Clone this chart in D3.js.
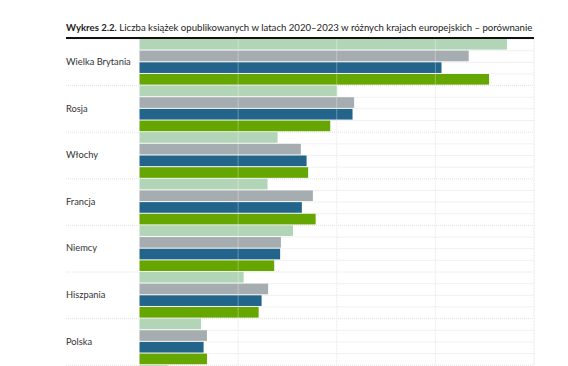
<!DOCTYPE html>
<html>
<head>
<meta charset="utf-8">
<script src="https://cdn.jsdelivr.net/npm/d3@7"></script>
<style>
  body { margin: 0; background: #fff; }
  svg { display: block; font-family: Lato, 'Noto Sans', sans-serif; }
</style>
</head>
<body>
<div id="chart"></div>
<script>
// data (liczba tytułów)
const countries = ['Wielka Brytania', 'Rosja', 'Włochy', 'Francja', 'Niemcy', 'Hiszpania', 'Polska', '']
const years = ['2020', '2021', '2022', '2023']
const v2020 = [186300, 100200, 70000, 64900, 77800, 52800, 31200, 14300]
const v2021 = [166900, 108800, 81800, 87900, 71700, 65200, 34200, 14000]
const v2022 = [153100, 108000, 84700, 82300, 71300, 61900, 32500, 14000]
const v2023 = [177200, 96700, 85500, 89300, 68300, 60400, 34200, 14000]
const xTicks = [0, 50000, 100000, 150000, 200000]
const colors = ['#b3d5b7', '#a6adb0', '#22648a', '#66a600']

const width = 568
const height = 366
const marginLeft = 66
const plotLeft = 139.5
const plotRight = 534
const plotTop = 38.5
const groupH = 46.6

const series = [v2020, v2021, v2022, v2023]

const svg = d3
  .select('#chart')
  .append('svg')
  .attr('width', width)
  .attr('height', height)

// title
const title = svg
  .append('text')
  .attr('x', marginLeft)
  .attr('y', 31)
  .attr('fill', '#222')
  .style('font-size', '10px')
title.append('tspan').attr('font-weight', 'bold').text('Wykres 2.2.')
title
  .append('tspan')
  .text(' Liczba książek opublikowanych w latach 2020–2023 w różnych krajach europejskich – porównanie')
const tw = title.node().getComputedTextLength()
title.style('font-size', (10 * (plotRight - 1 - marginLeft)) / tw + 'px')

const x = d3.scaleLinear().domain([0, 200000]).range([plotLeft, plotRight])

const y = d3
  .scaleBand()
  .domain(countries)
  .range([plotTop, plotTop + groupH * countries.length])

const yInner = d3
  .scaleBand()
  .domain(years)
  .range([0, y.bandwidth()])
  .paddingInner(0.09)
  .paddingOuter(0.04)

// gridlines behind bars
svg
  .append('g')
  .selectAll('line')
  .data(xTicks.slice(1))
  .join('line')
  .attr('x1', d => x(d))
  .attr('x2', d => x(d))
  .attr('y1', plotTop)
  .attr('y2', height)
  .attr('stroke', '#e6e6e6')
  .attr('stroke-dasharray', '2,1')

// separators between bars
const seps = []
countries.forEach(c => {
  years.forEach((yr, i) => {
    seps.push({ y: y(c) + i * (y.bandwidth() / years.length), group: i === 0 })
  })
})
svg
  .append('g')
  .selectAll('line')
  .data(seps)
  .join('line')
  .attr('x1', d => (d.group ? marginLeft : plotLeft))
  .attr('x2', plotRight)
  .attr('y1', d => d.y + 0.5)
  .attr('y2', d => d.y + 0.5)
  .attr('stroke', '#e2e2e2')
  .attr('stroke-dasharray', '1,1')

// bars
const groups = svg
  .append('g')
  .selectAll('g')
  .data(countries)
  .join('g')
  .attr('transform', d => `translate(0,${y(d)})`)

groups
  .selectAll('rect')
  .data((c, ci) => years.map((yr, si) => ({ yr, si, value: series[si][ci] })))
  .join('rect')
  .attr('x', x(0))
  .attr('y', d => yInner(d.yr))
  .attr('width', d => x(d.value) - x(0))
  .attr('height', yInner.bandwidth())
  .attr('fill', d => colors[d.si])

// gridlines over bars (lighter stripe)
svg
  .append('g')
  .selectAll('line')
  .data(xTicks.slice(1, 4))
  .join('line')
  .attr('x1', d => x(d))
  .attr('x2', d => x(d))
  .attr('y1', plotTop)
  .attr('y2', height)
  .attr('stroke', '#fff')
  .attr('stroke-opacity', 0.3)

// category labels
svg
  .append('g')
  .selectAll('text')
  .data(countries)
  .join('text')
  .attr('x', marginLeft)
  .attr('y', d => y(d) + y.bandwidth() / 2)
  .attr('dy', '0.35em')
  .attr('fill', '#333')
  .style('font-size', '9.3px')
  .text(d => d)

// heavy rule under title
svg
  .append('line')
  .attr('x1', marginLeft)
  .attr('x2', plotRight)
  .attr('y1', 38)
  .attr('y2', 38)
  .attr('stroke', '#111')
  .attr('stroke-width', 2)
</script>
</body>
</html>
